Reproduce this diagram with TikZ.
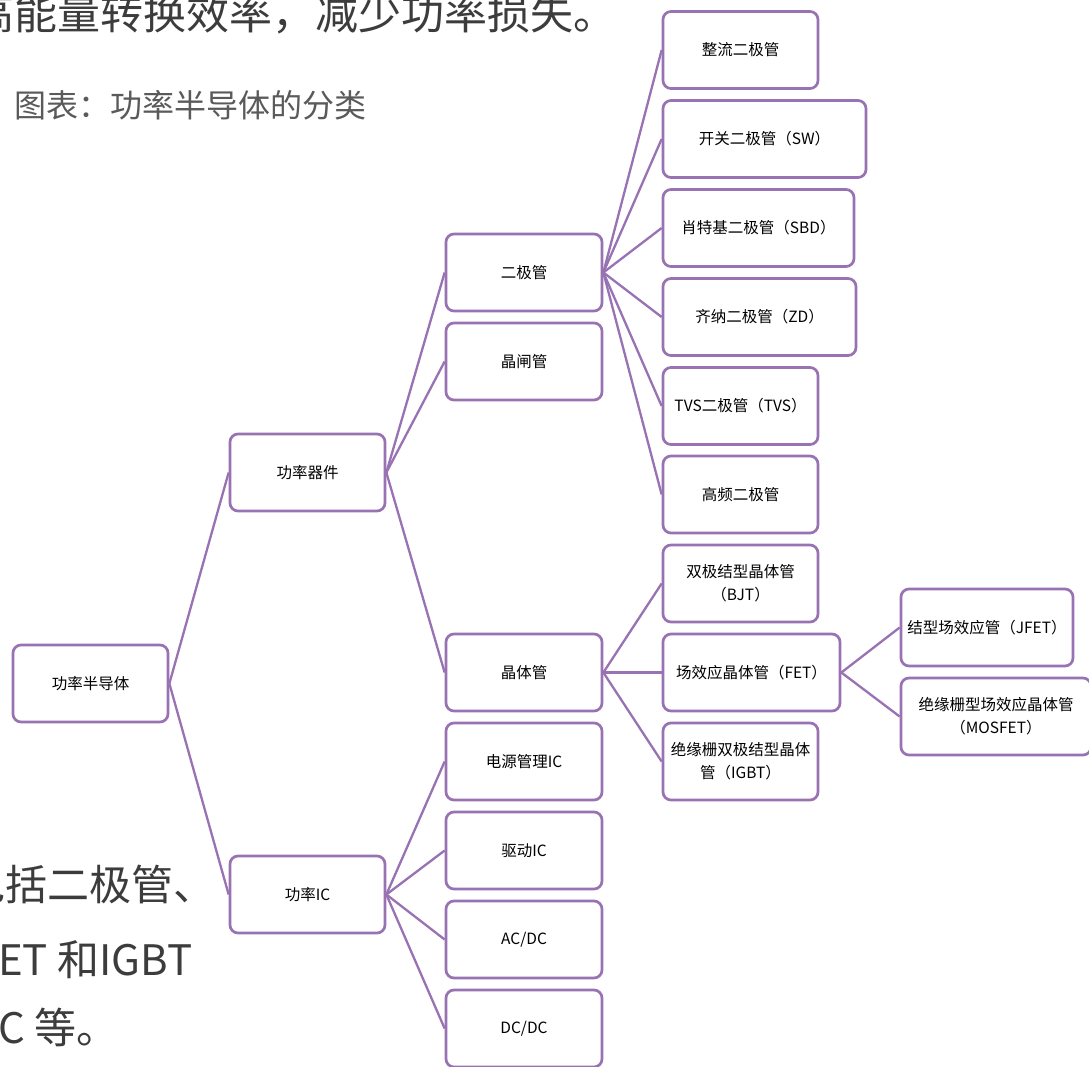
\documentclass[tikz,border=0pt]{standalone}
\usepackage{fontspec}
\setmainfont{Noto Sans CJK SC}
\definecolor{pur}{RGB}{152,114,178}
\definecolor{bodytxt}{RGB}{60,60,60}
\definecolor{captxt}{RGB}{90,90,90}
\begin{document}
\begin{tikzpicture}[x=1pt,y=-1pt,
  box/.style={draw=pur, line width=2.7pt, rounded corners=8pt, minimum height=77pt,
    align=center, font=\fontsize{15.5}{23}\selectfont, text=black, inner sep=1pt},
  link/.style={draw=pur, line width=2.3pt},
  para/.style={inner sep=0pt, anchor=base west, text=bodytxt, font=\fontsize{42}{50}\selectfont},
  captiontext/.style={inner sep=0pt, anchor=base west, text=captxt, font=\fontsize{32}{38}\selectfont}]
\useasboundingbox (0,0) rectangle (1089,1066);
\fill[white] (0,0) rectangle (1089,1066);

% background text
\node[para, font=\fontsize{43}{50}\selectfont] (t1) at (-29,29) {高能量转换效率，减少功率损失。};
\node[captiontext] (t2) at (14,117) {图表：功率半导体的分类};
\node[para] (t3) at (-37,900) {包括二极管、};
\node[para] (t4) at (-2,975) {ET 和IGBT};
\node[para] (t5) at (-2,1043) {C\hspace{10pt}等。};

% level 1
\node[box, minimum width=155pt] (root) at (90.5,683.5) {功率半导体};
% level 2
\node[box, minimum width=155pt] (qj) at (307.5,472.5) {功率器件};
\node[box, minimum width=155pt] (ic) at (307.5,894.5) {功率IC};
% level 3
\node[box, minimum width=156pt] (ejg) at (524,272.5) {二极管};
\node[box, minimum width=156pt] (jzg) at (524,361.5) {晶闸管};
\node[box, minimum width=156pt] (jtg) at (524,672.5) {晶体管};
\node[box, minimum width=156pt] (dy) at (524,761.5) {电源管理IC};
\node[box, minimum width=156pt] (qd) at (524,850.5) {驱动IC};
\node[box, minimum width=156pt] (acdc) at (524,939.5) {AC/DC};
\node[box, minimum width=156pt] (dcdc) at (524,1028.5) {DC/DC};
% level 4
\node[box, minimum width=155pt] (zl) at (740.5,50) {整流二极管};
\node[box, minimum width=203pt] (sw) at (764.5,139) {开关二极管（SW）};
\node[box, minimum width=191pt] (sbd) at (758.5,228) {肖特基二极管（SBD）};
\node[box, minimum width=193pt] (zd) at (759.5,317) {齐纳二极管（ZD）};
\node[box, minimum width=155pt] (tvs) at (740.5,406) {TVS二极管（TVS）};
\node[box, minimum width=155pt] (gp) at (740.5,494.5) {高频二极管};
\node[box, minimum width=155pt] (bjt) at (740.5,583.5) {双极结型晶体管\\（BJT）};
\node[box, minimum width=177pt] (fet) at (751.5,672.5) {场效应晶体管（FET）};
\node[box, minimum width=155pt] (igbt) at (740.5,761.5) {绝缘栅双极结型晶体\\管（IGBT）};
% level 5
\node[box, minimum width=172pt] (jfet) at (987,627.5) {结型场效应管（JFET）};
\node[box, minimum width=190pt] (mos) at (996,716.5) {绝缘栅型场效应晶体管\\（MOSFET）};

% connectors
\draw[link] (root.east) -- (qj.west);
\draw[link] (root.east) -- (ic.west);
\foreach \c in {ejg,jzg,jtg} \draw[link] (qj.east) -- (\c.west);
\foreach \c in {dy,qd,acdc,dcdc} \draw[link] (ic.east) -- (\c.west);
\foreach \c in {zl,sw,sbd,zd,tvs,gp} \draw[link] (ejg.east) -- (\c.west);
\foreach \c in {bjt,fet,igbt} \draw[link] (jtg.east) -- (\c.west);
\foreach \c in {jfet,mos} \draw[link] (fet.east) -- (\c.west);
\end{tikzpicture}
\end{document}
